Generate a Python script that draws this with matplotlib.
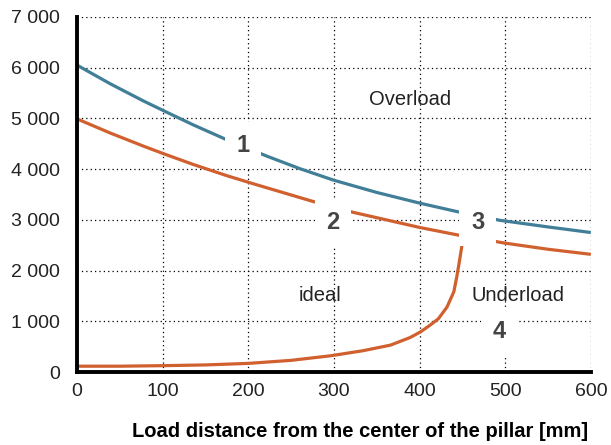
import matplotlib
matplotlib.use("Agg")
import matplotlib.pyplot as plt
from matplotlib.ticker import FuncFormatter

# Data
blue_x = [0, 39, 78, 100, 136, 172, 221, 260, 300, 350, 400, 447, 494, 550, 600]
blue_y = [6050, 5680, 5340, 5160, 4870, 4600, 4260, 4010, 3780, 3540, 3330, 3150, 2990, 2860, 2750]

orange_top_x = [0, 39, 78, 100, 136, 175, 210, 274, 322, 400, 445, 500, 550, 600]
orange_top_y = [4990, 4710, 4450, 4310, 4090, 3870, 3690, 3370, 3150, 2850, 2700, 2540, 2420, 2320]

orange_bot_x = [0, 50, 100, 150, 200, 250, 296, 334, 366, 389, 401, 412, 422, 432, 440, 443.5, 447, 450, 452]
orange_bot_y = [115, 115, 125, 140, 170, 230, 320, 420, 530, 680, 790, 920, 1050, 1280, 1580, 1880, 2230, 2550, 2750]

x_ticks = [0, 100, 200, 300, 400, 500, 600]
y_ticks = [0, 1000, 2000, 3000, 4000, 5000, 6000, 7000]

labels_num = ["1", "2", "3", "4"]
labels_num_x = [194, 299, 468, 493]
labels_num_y = [4470, 2950, 2950, 800]

region_text = ["Overload", "ideal", "Underload"]
region_x = [389, 284, 515]
region_y = [5370, 1500, 1500]

xlabel = "Load distance from the center of the pillar [mm]"

BLUE = "#417E97"
ORANGE = "#D1602F"
plt.rcParams['font.family'] = ['Liberation Sans', 'DejaVu Sans']

fig = plt.figure(figsize=(6.11, 4.45), dpi=100)
ax = fig.add_axes([0.126, 0.164, 0.841, 0.798])

for xs, ys, c in [(blue_x, blue_y, BLUE), (orange_top_x, orange_top_y, ORANGE),
                  (orange_bot_x, orange_bot_y, ORANGE)]:
    ax.plot(xs, ys, color=c, lw=2.3, solid_capstyle='butt',
            solid_joinstyle='round', zorder=3)

ax.set_xlim(0, 600)
ax.set_ylim(0, 7000)
ax.set_xticks(x_ticks)
ax.set_yticks(y_ticks)
ax.yaxis.set_major_formatter(FuncFormatter(lambda v, p: f"{int(v):,}".replace(",", " ")))
ax.tick_params(length=0, labelsize=14, colors="#222222")
ax.tick_params(axis='y', pad=12)
ax.tick_params(axis='x', pad=8)

ax.grid(True, color="black", linestyle=(0, (1, 2.5)), linewidth=0.9, zorder=1)
ax.set_axisbelow(True)
for s in ["top", "right"]:
    ax.spines[s].set_visible(False)
for s in ["left", "bottom"]:
    ax.spines[s].set_linewidth(2.8)
    ax.spines[s].set_color("black")
    ax.spines[s].set_zorder(5)

for t, x, y in zip(labels_num, labels_num_x, labels_num_y):
    ax.text(x, y, t, fontsize=17, fontweight='bold', color="#444444",
            ha='center', va='center', zorder=6,
            bbox=dict(boxstyle='square,pad=0.5', fc='white', ec='none'))

for t, x, y in zip(region_text, region_x, region_y):
    ax.text(x, y, t, fontsize=14.5, color="#222222", ha='center', va='center', zorder=6)

ax.set_xlabel(xlabel, fontsize=14.5, fontweight='bold')
ax.xaxis.set_label_coords(0.55, -0.14)

fig.savefig("out.png", dpi=100)
